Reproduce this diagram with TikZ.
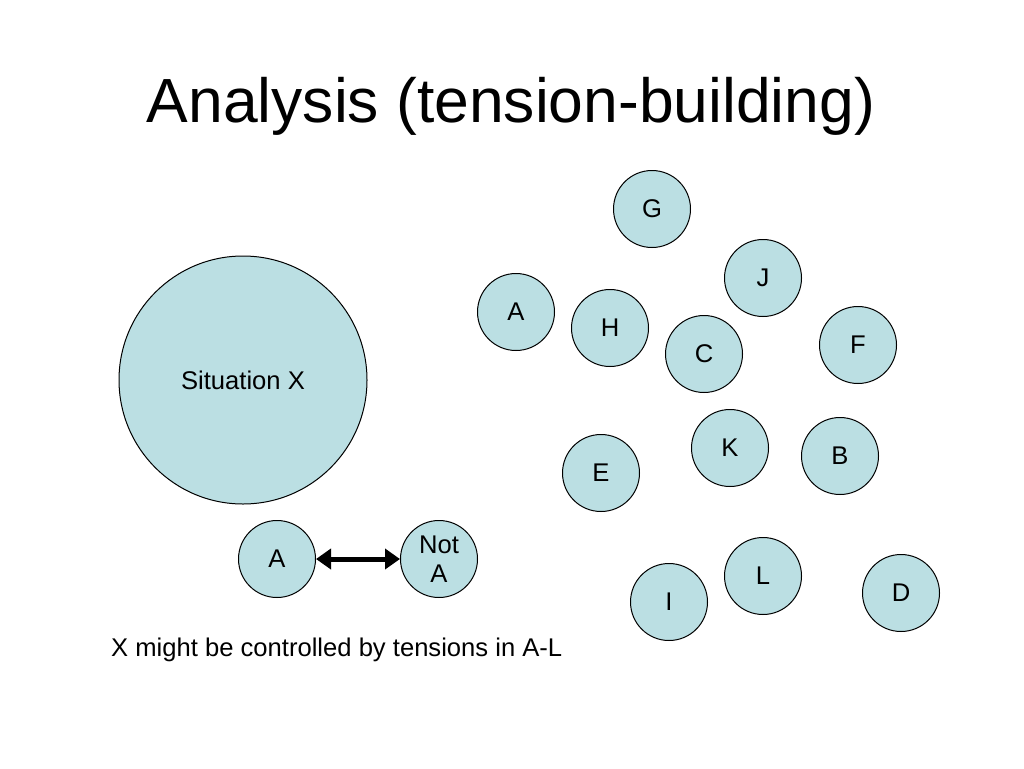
\documentclass[tikz,border=0pt]{standalone}
\usepackage{fontspec}
\setmainfont{Liberation Sans}
\usetikzlibrary{arrows.meta}
\usetikzlibrary{shapes}

\definecolor{circlefill}{RGB}{187,223,227}

\begin{document}
\begin{tikzpicture}[x = 1pt, y = -1pt, font=\fontsize{25.6}{29.5}\selectfont]
	\useasboundingbox (0,0) rectangle (1024,768);
	\tikzstyle{smallStyle}=[shape = circle, minimum size = 77pt, inner sep = 0pt, draw, line width = 1pt, fill = circlefill, align = center]
	\tikzstyle{bigStyle}=[shape = circle, minimum size = 248pt, inner sep = 0pt, draw, line width = 1pt, fill = circlefill]
	\tikzstyle{pairStyle}=[line width = 5pt, {Triangle[length=15pt, width=20pt]}-{Triangle[length=15pt, width=20pt]}]
	\node[anchor = base, font = \fontsize{62.4}{70}\selectfont] (title) at (511,122) {Analysis (tension-building)};
	% the situation and its pair
	\node[bigStyle] (sx) at (243,380) {Situation X};
	\node[smallStyle] (a0) at (277,559) {A};
	\node[smallStyle] (nota) at (439,559) {Not\\A};
	\draw[pairStyle] (a0) -- (nota);
	% tensions A-L
	\node[smallStyle] (g) at (652,209) {G};
	\node[smallStyle] (j) at (763,278) {J};
	\node[smallStyle] (a) at (516,312) {A};
	\node[smallStyle] (h) at (610,328) {H};
	\node[smallStyle] (c) at (704,354) {C};
	\node[smallStyle] (f) at (858,345) {F};
	\node[smallStyle] (k) at (730,448) {K};
	\node[smallStyle] (b) at (840,456) {B};
	\node[smallStyle] (e) at (601,473) {E};
	\node[smallStyle] (l) at (763,576) {L};
	\node[smallStyle] (d) at (901,593) {D};
	\node[smallStyle] (i) at (669,602) {I};
	\node[anchor = base west, inner sep = 0pt] (note) at (111,656) {X might be controlled by tensions in A-L};
\end{tikzpicture}
\end{document}
